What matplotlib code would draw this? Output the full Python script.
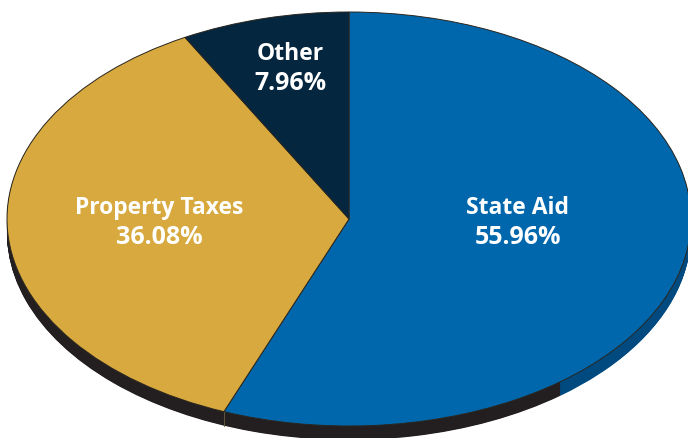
import numpy as np
import matplotlib
matplotlib.use('Agg')
import matplotlib.pyplot as plt

# data
categories = ['State Aid', 'Property Taxes', 'Other']
shares = [55.96, 36.08, 7.96]
slice_colors = ['#0067ac', '#d7a93e', '#05263f']

# rim of the pie: blue part runs from 12 o'clock, the rest is near-black
rim_shares = [39.4, 60.6]
rim_colors = ['#004a80', '#231f20']

# pixel geometry of the ellipse
W, H = 688, 439
CX, CY = 349, 220
RX, RY = 342, 207
DEPTH_PX = 14

plt.rcParams['font.family'] = ['Open Sans', 'DejaVu Sans']

fig = plt.figure(figsize=(W / 100, H / 100), dpi=100)
ax = fig.add_axes([0, 0, 1, 1])

# stack the rim from the bottom up so its colour breaks stay vertical
for d in np.arange(DEPTH_PX, 0, -0.5):
    ax.pie(rim_shares, colors=rim_colors, startangle=90, counterclock=False,
           center=(0, -d / RY), wedgeprops={'linewidth': 0})

ax.pie(shares, colors=slice_colors, startangle=90, counterclock=False,
       wedgeprops={'edgecolor': '#2a2620', 'linewidth': 0.7})

# thin light seam on the rim under the blue/gold boundary
seam = np.radians(shares[0] * 3.6)
ax.plot([np.sin(seam)] * 2, [np.cos(seam), np.cos(seam) - DEPTH_PX / RY],
        color='#6b5f45', lw=0.6)

# stretch the circle into the ellipse
ax.set_aspect('auto')
ax.set_xlim((0 - CX) / RX, (W - CX) / RX)
ax.set_ylim((CY - H) / RY, CY / RY)
ax.axis('off')


def put_label(px, py, name, share):
    # name and percentage are separate texts, the percentage runs a bit larger
    ax.text((px - CX) / RX, (CY - py) / RY, name, color='white', fontsize=16.5,
            fontweight='bold', ha='center', va='center')
    ax.text((px - CX) / RX, (CY - py - 30) / RY, f'{share:.2f}%', color='white',
            fontsize=18, fontweight='bold', ha='center', va='center')


put_label(518, 208, categories[0], shares[0])
put_label(159, 208, categories[1], shares[1])
put_label(290, 54, categories[2], shares[2])

fig.savefig('out.png', dpi=100)
